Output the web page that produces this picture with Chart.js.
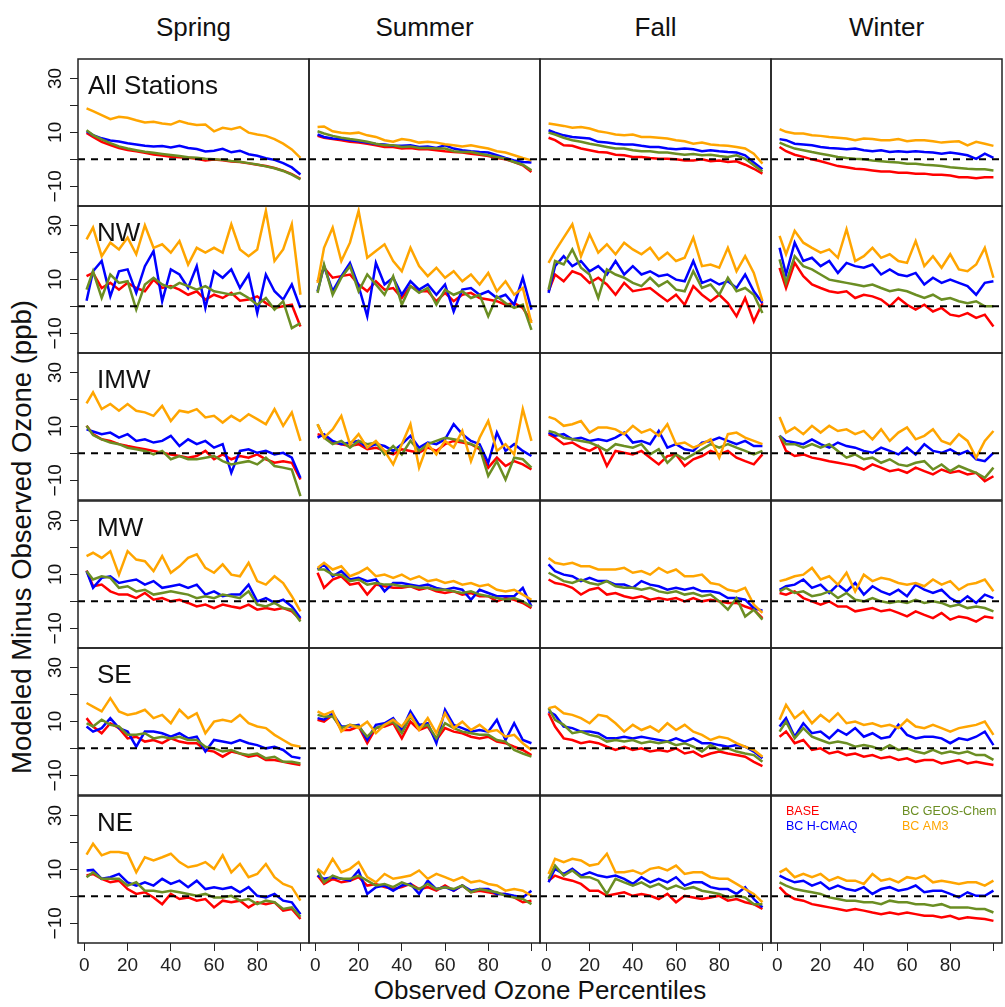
<!DOCTYPE html>
<html>
<head>
<meta charset="utf-8">
<script src="https://cdn.jsdelivr.net/npm/chart.js@4.4.1/dist/chart.umd.min.js"></script>
<style>
  body { margin: 0; background: #fff; font-family: "Liberation Sans", Arial, sans-serif; }
  #fig { position: relative; width: 1005px; height: 1007px; overflow: hidden; }
  #fig canvas { position: absolute; }
  .ttl { position: absolute; color: #111; font-size: 26px; line-height: 26px; text-align: center; white-space: nowrap; }
</style>
</head>
<body>
<div id="fig"></div>
<script>
const percentiles = [1,4,8,12,16,20,24,28,32,36,40,44,48,52,56,60,64,68,72,76,80,84,88,92,96,100];
const seasons = ['Spring', 'Summer', 'Fall', 'Winter'];
const regions = ['All Stations', 'NW', 'IMW', 'MW', 'SE', 'NE'];
const scenarios = ['BASE', 'BC H-CMAQ', 'BC GEOS-Chem', 'BC AM3'];
const scenarioColors = ['#ff0000', '#0000ff', '#6b8e23', '#ffa500'];
const yTicks = [-10, 0, 10, 20, 30];
const yTickLabels = ['\u221210', '', '10', '', '30'];
const xTicks = [0, 20, 40, 60, 80, 100];
const xTickLabels = ['0', '20', '40', '60', '80', ''];

// modeled minus observed ozone (ppb); each array = [spring, summer, fall, winter]
const allBase = [
  [9.8,8.3,6.5,5.3,4.2,3.5,3.0,2.4,1.8,1.4,1.0,0.8,0.6,0.2,-0.4,-0.1,-0.3,-0.8,-1.0,-1.5,-2.0,-2.5,-3.2,-4.2,-5.5,-7.2],
  [8.7,8.0,7.5,7.1,6.5,6.2,5.8,5.2,4.6,4.6,4.0,4.2,3.7,3.7,3.4,3.0,2.7,2.5,2.1,1.7,1.2,0.5,0.0,-1.0,-2.2,-4.7],
  [8.0,7.1,5.2,5.0,4.0,3.4,2.7,2.5,1.7,1.5,0.9,0.9,0.5,0.2,0.2,0.0,-0.4,-0.4,0.0,-0.7,-0.4,-1.0,-0.7,-2.0,-3.5,-5.3],
  [4.6,3.0,1.7,0.9,0.0,-0.7,-1.6,-2.5,-2.9,-3.5,-3.7,-4.1,-4.5,-4.5,-5.0,-5.0,-5.3,-5.3,-5.7,-5.7,-6.0,-6.6,-6.6,-7.0,-6.6,-6.6]
];
const allHcmaq = [
  [10.4,9.0,7.8,7.0,6.6,6.0,5.5,5.0,4.8,4.9,4.4,5.0,4.2,3.8,2.9,3.2,3.9,2.6,3.2,1.9,1.3,0.4,-0.2,-1.4,-3.0,-5.6],
  [9.2,8.3,7.7,7.5,7.1,6.7,6.2,5.7,5.5,5.0,5.0,5.2,4.6,4.8,4.2,5.2,4.0,3.4,3.0,2.7,2.5,1.5,0.5,-0.4,-1.0,-1.2],
  [10.8,9.9,8.9,8.3,8.0,7.7,6.5,6.2,5.8,5.5,5.5,5.0,4.6,4.6,4.0,3.7,4.0,3.7,3.0,3.4,3.0,2.7,2.5,1.5,-1.2,-3.7],
  [7.5,7.1,5.8,5.5,5.2,4.6,4.2,4.0,3.7,4.0,3.4,3.0,3.4,2.7,3.0,2.7,3.0,2.7,2.5,2.1,2.5,2.1,1.5,0.2,2.1,0.5]
];
const allGeos = [
  [10.8,9.0,7.4,6.0,4.8,4.0,3.4,2.8,2.4,2.0,1.6,1.2,0.8,0.6,0.2,0.0,-0.2,-0.6,-0.9,-1.4,-1.9,-2.6,-3.3,-4.3,-5.7,-7.4],
  [10.4,9.6,8.7,8.0,7.5,7.1,6.5,5.8,5.2,5.2,4.6,4.8,4.2,4.2,4.0,4.0,3.0,2.7,2.7,2.1,1.5,0.9,0.2,-1.0,-2.0,-4.1],
  [9.9,9.2,8.0,7.1,6.5,5.8,5.2,4.6,4.0,4.0,3.4,3.0,3.0,2.5,2.5,2.1,1.7,2.0,1.5,1.7,1.2,0.9,1.5,0.2,-2.2,-4.5],
  [6.2,5.2,4.0,3.4,2.7,2.1,1.5,0.9,0.5,0.2,0.0,-0.4,-0.7,-1.0,-1.2,-1.6,-1.6,-2.0,-2.2,-2.5,-2.9,-3.2,-3.5,-3.7,-3.7,-4.1]
];
const allAm3 = [
  [18.9,17.9,16.4,14.9,15.8,15.4,14.5,13.7,13.9,13.3,12.9,14.2,13.3,12.7,12.9,10.4,11.7,11.2,12.0,9.9,9.2,8.7,7.5,5.8,3.7,0.5],
  [12.0,12.2,10.4,9.9,9.6,9.9,8.9,8.3,7.1,6.5,7.5,7.1,6.2,6.5,6.2,5.6,5.2,4.8,5.2,4.6,4.0,3.0,2.5,1.5,0.5,-0.4],
  [13.3,12.9,12.4,11.7,12.0,11.4,10.4,9.9,9.2,8.9,9.2,8.3,8.3,8.0,7.7,7.1,6.7,5.8,6.2,5.5,5.2,5.0,4.6,4.0,2.1,-1.6],
  [11.2,10.2,9.6,9.6,8.9,8.7,8.3,8.0,7.7,7.1,7.7,7.5,7.1,7.1,7.5,6.7,7.1,7.1,6.7,6.2,6.5,6.7,5.2,6.5,5.8,5.0]
];

const nwBase = [
  [11.2,12.4,6.8,8.7,6.2,8.7,6.8,5.6,9.9,6.8,7.5,6.2,4.3,5.6,2.5,4.3,3.1,5.0,2.1,2.5,3.7,1.2,-0.6,0.0,0.6,-7.5],
  [9.3,14.3,10.6,11.2,11.8,8.1,5.6,9.3,6.2,6.8,3.1,7.5,5.6,5.6,1.9,5.0,1.9,4.3,5.0,3.1,2.5,1.9,0.6,1.2,-0.6,-5.6],
  [5.6,11.8,9.3,13.0,11.8,8.7,10.6,8.1,4.3,8.7,5.6,6.2,6.8,4.3,1.9,4.3,0.6,7.5,4.3,1.9,4.3,1.2,-3.7,3.1,-5.6,1.2],
  [14.3,6.8,16.1,11.2,8.1,6.8,5.6,5.0,5.6,3.1,4.3,3.7,2.5,0.0,3.1,0.6,-1.2,0.6,-1.9,-0.6,-3.1,-3.7,-2.5,-4.3,-3.1,-7.5]
];
const nwHcmaq = [
  [2.1,13.0,16.8,3.7,13.0,13.7,5.0,14.9,20.5,1.9,13.7,11.8,6.8,14.9,-0.6,13.0,10.6,13.7,6.8,11.8,-2.5,11.8,5.6,2.5,8.1,-0.6],
  [5.6,14.9,5.6,11.2,16.1,7.5,-3.7,16.1,8.1,10.6,4.3,9.3,6.2,8.1,4.3,8.1,-1.9,6.2,6.8,4.3,5.6,3.1,4.3,0.6,10.6,-1.2],
  [5.0,14.9,18.6,14.9,16.8,13.0,14.9,11.8,16.8,11.8,14.9,11.8,13.0,11.2,11.8,9.9,9.3,16.8,8.7,9.9,8.1,9.3,6.8,11.8,5.6,1.2],
  [21.7,11.8,23.6,16.8,18.0,14.9,16.8,12.4,16.1,14.9,14.3,15.5,11.8,13.7,11.8,11.2,12.4,8.1,10.6,8.7,9.9,8.7,7.5,4.3,8.7,9.3]
];
const nwGeos = [
  [6.2,13.0,3.1,11.8,8.7,9.3,-1.2,8.1,10.6,8.1,6.8,8.7,7.5,6.2,7.5,5.6,5.0,4.3,5.0,3.1,0.6,3.1,-1.2,1.9,-8.1,-6.2],
  [5.0,15.5,4.3,10.6,14.9,5.6,11.8,8.1,4.3,11.2,0.6,7.5,5.0,6.8,0.6,6.2,4.3,5.6,3.1,4.3,-3.7,3.7,1.2,-0.6,0.6,-8.7],
  [6.2,16.8,15.5,21.1,14.3,11.8,3.1,13.7,11.8,10.6,8.7,7.5,10.6,7.5,9.3,6.2,5.6,13.0,6.8,8.1,4.3,10.6,5.6,6.8,4.3,-2.5],
  [17.4,8.7,18.6,14.9,13.7,11.8,9.9,9.3,8.7,8.1,7.5,8.1,6.8,5.6,6.2,5.6,4.3,3.1,4.3,2.5,3.1,1.9,1.2,1.9,0.0,0.0]
];
const nwAm3 = [
  [24.8,29.2,18.6,23.6,21.1,25.5,19.3,30.0,21.7,23.0,19.9,24.2,15.5,21.7,19.9,21.7,19.9,30.4,21.1,18.6,21.1,35.4,16.8,21.1,30.4,4.3],
  [8.7,21.7,29.2,16.8,23.6,35.4,18.0,20.5,23.0,16.8,13.0,21.7,14.9,11.2,14.3,10.6,13.0,9.3,11.8,8.1,12.4,5.6,9.3,4.3,6.8,-6.2],
  [16.1,20.5,25.5,30.4,18.6,26.7,19.9,23.0,19.3,23.6,21.1,19.3,21.7,17.4,19.9,16.8,18.0,25.5,14.9,15.5,14.3,21.7,13.0,18.6,12.4,1.9],
  [26.1,19.3,28.0,23.6,21.7,19.9,21.1,18.0,28.6,16.8,18.6,21.7,18.0,19.3,16.8,16.1,24.2,14.9,18.6,14.3,19.3,13.7,13.0,15.5,21.7,10.6]
];

const imwBase = [
  [10.2,7.1,5.2,4.6,3.4,2.7,2.1,1.5,0.9,0.2,-0.4,-1.0,-1.6,-1.0,0.9,-2.2,-0.4,-2.2,-1.0,-1.6,-0.4,-2.2,-3.5,-2.9,-3.5,-9.7],
  [7.1,6.5,4.0,3.4,2.7,3.4,1.5,2.1,0.9,-0.4,1.5,0.9,0.2,2.1,0.9,3.4,4.6,4.0,3.4,1.5,-5.3,-1.6,-4.7,-2.9,-4.1,-6.0],
  [7.1,5.8,3.4,4.0,2.1,0.9,2.7,-4.7,0.9,0.2,-0.4,0.9,-1.6,-4.1,-1.0,-0.4,-4.7,-2.2,-1.0,0.9,-0.4,0.9,-1.6,-2.9,-4.1,-0.4],
  [6.5,0.9,-1.0,-0.4,-1.6,-2.2,-2.9,-3.5,-4.1,-4.7,-6.0,-4.1,-5.3,-6.6,-6.0,-7.2,-5.3,-6.6,-7.8,-6.0,-7.2,-6.6,-7.8,-7.2,-10.3,-8.5]
];
const imwHcmaq = [
  [8.9,8.1,7.1,7.7,5.8,7.1,4.6,5.2,4.0,4.6,6.5,2.7,5.2,3.4,4.6,2.1,3.4,-7.2,0.9,1.5,0.2,0.9,-0.4,0.2,-1.6,-9.1],
  [5.8,7.1,4.6,3.4,4.0,4.6,2.1,3.4,2.7,0.9,3.4,6.5,2.1,4.0,3.4,5.2,10.8,7.1,4.6,3.4,-3.5,7.7,0.9,3.4,0.9,-1.0],
  [7.7,6.5,7.1,5.2,5.8,4.6,5.2,4.6,5.8,7.7,4.0,4.6,3.4,8.3,2.1,3.4,1.5,0.9,4.0,4.6,5.8,4.6,3.4,4.6,2.7,2.7],
  [6.5,4.6,4.0,3.4,5.2,3.4,2.1,4.0,2.7,2.1,0.9,0.2,2.1,0.9,-0.4,2.1,-0.4,3.4,0.9,0.2,1.5,-0.4,0.9,-2.2,-2.9,0.2]
];
const imwGeos = [
  [10.2,6.8,5.2,4.0,3.4,2.1,1.5,0.9,-0.4,0.9,-2.2,-1.0,-2.2,-2.2,-1.6,-1.0,-2.9,-4.1,-3.5,-2.9,-4.1,-1.6,-4.7,-5.3,-6.0,-15.9],
  [10.8,5.8,3.4,4.6,2.1,4.6,3.4,4.0,-0.4,2.7,-0.4,4.6,0.9,3.4,4.6,5.8,5.2,4.6,3.4,2.1,-8.4,-2.9,-9.7,-1.6,-2.2,-5.3],
  [8.3,7.7,5.8,5.2,4.6,4.0,2.7,0.9,3.4,2.7,2.1,3.4,-0.4,1.5,-3.5,-0.4,-2.2,-0.4,1.5,3.4,2.1,3.4,2.1,0.9,-0.4,0.9],
  [6.5,3.4,3.4,2.1,3.4,2.1,3.4,0.9,-1.6,-0.4,-2.2,-1.6,-3.5,-2.2,-4.1,-4.7,-3.5,-2.9,-6.0,-4.1,-6.6,-4.7,-6.0,-7.2,-9.1,-5.3]
];
const imwAm3 = [
  [18.5,22.6,16.4,18.3,15.8,18.3,15.8,15.2,13.9,17.6,12.0,15.8,15.2,16.4,13.3,13.9,11.4,13.9,12.0,14.5,12.7,10.8,16.4,10.2,15.2,4.6],
  [10.8,5.8,8.9,13.9,3.4,7.1,2.1,4.6,0.9,-4.1,3.4,10.8,-5.3,3.4,-0.4,4.6,2.1,8.3,-2.9,5.8,12.0,0.9,3.4,-0.4,16.4,4.6],
  [13.5,12.7,10.2,10.8,12.0,7.7,9.6,9.6,8.9,7.1,10.2,7.7,8.9,6.5,10.8,3.4,4.0,2.1,3.4,5.2,-1.6,7.1,7.7,5.8,4.6,3.4],
  [13.5,7.7,9.6,7.1,10.2,7.7,10.2,8.3,8.9,7.1,8.3,5.2,8.9,4.6,7.7,9.6,5.2,6.5,8.9,4.6,3.4,7.1,4.6,-1.6,4.6,8.3]
];

const mwBase = [
  [11.4,5.6,6.2,3.7,2.5,2.5,1.2,3.1,0.6,1.2,0.0,0.6,-0.6,-1.9,-1.2,-2.5,-1.2,-1.9,-2.5,-1.2,-3.1,-2.5,-3.1,-2.5,-3.7,-6.8],
  [10.6,5.0,8.1,9.3,6.2,6.8,2.5,6.2,5.6,5.0,5.0,5.6,4.3,5.0,3.7,3.1,3.7,2.5,3.1,1.9,1.9,0.0,1.2,0.6,-0.6,-2.5],
  [8.1,6.8,6.2,5.0,2.5,4.3,5.0,2.5,3.1,1.9,1.2,1.9,0.6,1.2,0.6,1.2,0.0,1.2,0.0,0.6,0.0,-0.6,-0.6,-1.9,-3.1,-6.2],
  [3.1,2.5,3.7,1.2,0.0,-1.2,0.0,-1.9,-1.9,-3.7,-3.1,-2.5,-3.7,-3.1,-4.3,-5.6,-3.7,-5.0,-6.2,-4.3,-6.8,-5.6,-6.2,-7.5,-5.6,-6.2]
];
const mwHcmaq = [
  [11.2,5.0,8.7,9.3,6.8,7.5,8.1,6.2,7.5,5.0,5.6,6.2,5.0,6.2,2.5,3.7,1.9,2.5,2.5,6.2,0.0,1.2,-0.6,0.6,-1.9,-6.2],
  [11.8,13.7,9.3,11.2,8.1,8.7,7.5,8.1,3.7,6.8,6.8,6.2,5.6,6.2,5.0,4.3,5.0,4.3,0.6,4.3,3.1,1.9,1.9,1.9,5.0,-1.9],
  [13.7,11.2,9.9,9.3,7.5,8.7,7.5,7.5,6.2,6.2,5.0,7.5,6.2,5.6,4.3,5.0,4.3,5.0,3.7,3.7,3.1,1.2,1.2,0.6,-2.5,-3.5],
  [4.3,5.6,6.2,8.1,5.0,6.2,3.1,6.2,3.7,6.8,2.5,5.6,3.7,2.5,4.3,1.9,6.2,4.3,3.1,4.3,1.2,-0.6,1.9,-0.6,2.5,1.2]
];
const mwGeos = [
  [11.2,8.1,9.3,8.7,5.0,5.6,3.7,4.3,2.5,3.1,3.7,3.1,2.5,1.2,1.9,1.2,2.5,1.9,1.2,3.7,-1.2,-1.9,-0.6,-2.5,-3.1,-7.5],
  [11.8,11.8,9.9,9.9,7.5,8.1,6.2,6.8,6.2,6.2,5.6,5.6,5.0,5.0,4.3,4.3,3.7,3.1,3.7,2.5,1.9,1.2,0.6,1.2,0.0,-1.9],
  [10.6,9.3,7.5,6.8,8.1,6.8,6.2,7.5,5.6,5.0,5.0,4.3,5.0,3.7,3.1,3.7,2.5,3.1,1.9,2.5,0.0,-3.1,1.2,-5.6,-3.1,-6.8],
  [3.7,5.0,3.1,3.7,1.9,2.5,3.7,1.2,3.1,0.6,0.0,1.2,0.0,-0.6,0.0,-0.6,0.6,-0.6,0.0,-0.6,-1.9,-1.2,-2.5,-1.9,-2.5,-3.7]
];
const mwAm3 = [
  [16.8,18.0,16.1,18.6,9.9,18.6,15.5,14.9,11.2,16.8,10.6,13.0,16.1,17.4,12.4,10.6,13.7,9.9,9.3,14.3,7.5,6.2,9.3,6.8,1.9,-3.7],
  [12.4,14.3,11.8,13.0,9.3,10.6,12.4,9.3,9.9,8.7,9.9,8.1,9.3,7.5,8.1,6.8,7.5,6.2,6.8,5.6,6.2,4.3,3.7,4.3,2.5,0.6],
  [16.1,14.3,13.7,14.3,13.0,13.0,11.8,11.8,11.8,12.4,10.6,11.2,9.9,12.4,10.6,11.8,9.3,9.3,9.9,6.8,6.2,4.3,3.7,5.0,-1.2,-4.3],
  [7.5,8.1,9.3,9.9,12.4,8.1,9.3,6.2,10.6,3.7,9.9,7.5,8.7,8.1,6.8,6.2,6.8,5.6,8.1,6.2,7.5,4.3,6.2,6.8,8.1,3.7]
];

const seBase = [
  [11.2,8.1,5.6,9.3,7.5,3.7,4.3,2.5,3.1,1.9,3.7,2.5,1.9,1.9,-0.6,-1.2,-3.1,-1.2,-1.9,-3.1,-2.5,-4.3,-4.3,-5.0,-5.6,-6.2],
  [10.6,9.9,12.4,6.8,6.8,8.1,1.9,7.5,8.1,9.3,3.7,9.9,6.8,8.1,3.1,7.5,6.2,5.6,4.3,3.7,4.3,2.5,1.9,0.6,-0.6,-2.5],
  [13.0,8.1,3.7,3.1,1.9,2.5,1.9,0.6,-0.6,0.6,-0.6,0.0,-1.2,-0.6,-1.2,0.0,-1.9,-1.2,-3.1,-1.9,-1.2,-1.9,-2.5,-3.1,-5.0,-6.6],
  [4.3,6.2,1.9,3.1,-0.6,0.0,-1.9,-1.2,-2.5,-1.9,-3.1,-2.5,-3.7,-3.1,-4.3,-3.7,-5.0,-4.3,-4.3,-5.6,-5.0,-4.3,-5.6,-5.0,-5.6,-6.2]
];
const seHcmaq = [
  [8.1,6.2,7.5,11.2,7.5,6.2,0.6,6.2,6.2,5.6,4.3,5.6,3.7,4.3,-1.2,3.1,2.5,1.9,3.1,1.9,1.2,0.0,0.6,-0.6,-3.1,-3.7],
  [11.2,10.6,13.0,8.1,8.1,8.7,3.1,8.7,9.3,11.2,6.8,13.7,8.7,9.3,1.9,14.3,8.7,7.5,6.2,6.8,6.2,10.6,3.1,9.3,3.1,1.9],
  [13.7,12.4,8.1,7.5,6.2,6.2,5.6,3.7,3.7,4.3,3.7,4.3,3.7,3.1,2.5,3.7,2.5,3.7,1.9,1.9,1.2,0.6,1.2,0.6,-1.2,-3.7],
  [8.1,11.2,4.3,9.3,5.6,6.2,3.7,6.8,5.0,7.5,4.3,5.6,3.7,4.3,8.7,5.0,3.7,4.3,4.3,3.7,1.9,3.7,3.1,4.3,6.2,1.2]
];
const seGeos = [
  [9.3,8.1,10.6,8.7,8.1,5.0,5.0,5.6,3.7,4.3,3.7,4.3,3.1,3.1,0.6,0.0,-1.2,-0.6,-1.9,-2.5,-1.9,-3.7,-3.1,-5.0,-5.0,-5.6],
  [12.4,11.8,11.8,7.5,8.7,8.1,4.3,7.5,8.7,9.9,5.6,11.8,7.5,8.7,3.7,9.3,7.5,6.2,5.6,5.0,5.0,3.1,2.5,-0.6,-1.9,-3.1],
  [14.9,10.6,8.7,5.6,6.2,5.0,4.3,2.5,3.1,2.5,3.1,1.9,2.5,1.9,2.5,1.2,1.9,0.6,-1.2,1.2,-0.6,0.0,-1.2,-1.9,-2.5,-5.0],
  [6.2,9.9,3.7,7.5,4.3,3.1,1.9,2.5,1.9,0.6,1.2,0.6,-0.6,1.2,-0.6,0.0,-1.2,-1.9,-0.6,-1.9,-1.2,-1.9,-1.2,-2.5,-2.5,-4.3]
];
const seAm3 = [
  [16.8,15.5,13.7,18.6,13.7,12.4,13.0,14.3,11.2,12.4,9.3,14.3,11.2,13.0,5.6,9.9,10.6,9.9,12.4,9.3,8.1,7.5,5.0,3.1,1.2,0.6],
  [13.7,12.4,13.7,6.2,8.7,7.5,9.9,5.6,8.7,10.6,8.1,12.4,6.8,11.2,5.6,13.0,7.5,9.9,6.8,8.7,6.2,6.8,4.3,5.0,1.9,-0.6],
  [14.9,15.5,13.0,12.4,11.2,9.3,12.4,11.8,9.3,6.2,8.7,6.8,8.1,6.2,9.3,6.8,8.7,6.2,5.0,3.1,4.3,3.7,1.9,0.6,-0.6,-3.1],
  [10.6,16.1,11.2,13.7,9.3,12.4,9.9,13.0,9.3,9.9,8.7,9.3,8.1,8.7,7.5,10.6,8.1,7.5,8.7,7.5,6.2,7.5,8.1,8.7,9.9,5.0]
];

const neBase = [
  [7.7,8.3,6.5,5.2,5.8,2.7,0.9,1.5,-0.4,-2.9,0.9,-1.0,-0.4,-1.6,-1.0,-4.1,-1.6,-2.2,-1.6,-4.1,-2.2,-2.9,-2.2,-5.3,-4.7,-8.4],
  [7.7,4.6,6.5,5.2,5.8,7.1,4.0,4.6,3.4,2.7,3.4,4.6,2.7,3.4,2.1,4.0,2.1,4.0,1.5,2.1,1.5,0.9,0.9,-0.4,-2.2,-1.6],
  [5.8,7.7,6.5,5.8,4.6,2.1,2.1,0.2,0.9,1.5,0.2,0.9,0.2,-1.0,0.9,-2.2,0.2,-0.4,-1.0,-0.4,0.2,-1.6,-1.0,-2.2,-2.9,-4.7],
  [3.4,0.9,-1.0,-1.6,-2.9,-3.5,-4.1,-4.7,-5.3,-4.7,-5.3,-6.0,-6.6,-6.0,-6.6,-6.0,-6.6,-7.2,-7.2,-7.8,-7.2,-8.4,-7.8,-8.1,-8.4,-9.1]
];
const neHcmaq = [
  [9.6,9.8,6.5,7.1,8.3,5.2,4.0,5.2,4.0,6.5,4.6,5.8,3.4,5.8,2.7,3.4,2.7,3.4,1.5,3.4,0.2,-0.4,0.9,-1.6,-2.2,-6.6],
  [7.7,6.5,7.1,6.5,5.8,9.6,0.9,3.4,4.0,2.1,4.0,4.6,0.9,5.8,2.7,3.4,2.1,4.0,2.1,2.7,2.7,0.9,0.9,0.2,-0.4,2.1],
  [5.2,10.2,8.3,10.2,7.7,8.9,7.7,7.1,7.7,6.5,4.6,7.1,5.2,6.5,5.2,7.1,4.0,5.2,5.2,3.4,2.7,2.7,0.9,3.4,-1.0,-4.1],
  [7.7,6.5,5.2,5.8,4.0,5.2,2.7,4.0,2.7,2.1,3.4,0.9,2.7,3.4,2.1,2.7,4.0,1.5,2.1,2.1,0.9,-0.4,1.5,0.2,0.2,2.1]
];
const neGeos = [
  [7.1,8.9,6.5,6.5,6.5,4.0,5.2,2.1,2.1,1.5,2.1,1.5,0.9,0.2,0.9,-0.4,-0.4,0.2,-1.6,-1.0,-2.9,-1.6,-2.2,-4.7,-4.1,-7.6],
  [9.8,5.2,7.7,6.5,6.5,7.7,5.8,4.0,4.6,3.4,5.2,4.0,2.7,4.6,2.7,3.4,2.7,4.0,1.5,2.7,2.1,1.5,0.2,-0.4,-1.0,-2.9],
  [6.5,11.4,7.7,9.6,7.1,7.1,5.8,0.9,6.5,5.2,4.0,5.2,3.4,4.6,2.7,4.0,2.7,3.4,2.1,1.5,0.9,-0.4,0.2,-0.4,-2.9,-2.9],
  [5.2,4.0,2.7,2.1,1.5,0.9,-0.4,-1.0,-1.6,-1.6,-2.2,-2.2,-2.9,-1.6,-2.2,-2.2,-2.9,-2.9,-3.5,-2.9,-4.1,-4.1,-4.1,-4.7,-4.7,-6.0]
];
const neAm3 = [
  [15.5,19.5,15.2,16.4,16.4,15.8,8.9,14.5,13.3,14.5,15.8,12.7,10.8,11.4,12.7,10.2,15.2,8.9,12.0,7.1,8.3,12.0,7.1,4.6,3.4,-1.6],
  [10.2,8.3,13.9,8.9,10.2,12.7,7.1,5.2,8.3,6.5,7.1,7.7,9.6,6.5,8.3,7.1,5.8,7.1,5.2,5.8,4.6,4.0,2.1,2.7,2.1,0.2],
  [8.3,13.9,12.7,13.9,13.3,11.4,12.0,15.8,8.9,8.9,9.6,8.3,10.2,10.8,9.6,11.4,8.3,8.9,8.9,7.1,6.5,6.5,4.6,2.7,0.9,-2.2],
  [8.9,10.2,7.1,8.3,7.1,8.3,5.8,7.1,5.8,5.8,4.6,8.3,5.8,6.5,5.2,7.1,6.5,7.7,5.2,5.8,5.2,4.6,5.2,5.2,4.0,5.8]
];

// rows follow `regions`, columns inside follow `scenarios`
const regionData = [
  [allBase, allHcmaq, allGeos, allAm3],
  [nwBase, nwHcmaq, nwGeos, nwAm3],
  [imwBase, imwHcmaq, imwGeos, imwAm3],
  [mwBase, mwHcmaq, mwGeos, mwAm3],
  [seBase, seHcmaq, seGeos, seAm3],
  [neBase, neHcmaq, neGeos, neAm3]
];

// layout
const COL_LEFT = [78, 309, 540, 771];
const ROW_TOP = [59, 206, 353, 501, 648, 796];
const PANEL_W = 231, PANEL_H = 147;
const PAD = 2, Y_AXIS_W = 50, X_AXIS_H = 40;
const X_MIN = -2.96, X_MAX = 103.96, Y_MIN = -17.3, Y_MAX = 37.2;
const FONT = '"Liberation Sans", Arial, sans-serif';

Chart.defaults.font.family = FONT;
Chart.defaults.color = '#222';

// frame, region name, rotated y labels and the small legend
const panelDecor = {
  id: 'panelDecor',
  afterDraw(chart, args, opts) {
    const { ctx, chartArea: a, scales } = chart;
    ctx.save();
    ctx.strokeStyle = '#222';
    ctx.lineWidth = 1.5;
    ctx.strokeRect(a.left, a.top, a.right - a.left, a.bottom - a.top);
    ctx.fillStyle = '#111';
    ctx.textBaseline = 'alphabetic';
    if (opts.region) {
      ctx.font = '26px ' + FONT;
      ctx.textAlign = 'left';
      ctx.fillText(opts.region, a.left + opts.regionDx, a.top + 35);
    }
    if (opts.yLabels) {
      ctx.font = '19px ' + FONT;
      ctx.textAlign = 'center';
      yTicks.forEach((v, i) => {
        if (!yTickLabels[i]) return;
        const y = scales.y.getPixelForValue(v);
        ctx.save();
        ctx.translate(a.left - 17, y);
        ctx.rotate(-Math.PI / 2);
        ctx.fillText(yTickLabels[i], 0, 0);
        ctx.restore();
      });
    }
    if (opts.legend) {
      ctx.font = '12.5px ' + FONT;
      ctx.textAlign = 'left';
      scenarios.forEach((s, i) => {
        ctx.fillStyle = scenarioColors[i];
        ctx.fillText(s, a.left + 15 + Math.floor(i / 2) * 116, a.top + 19 + (i % 2) * 14.5);
      });
    }
    ctx.restore();
  }
};

const fig = document.getElementById('fig');

seasons.forEach((season, c) => {
  const t = document.createElement('div');
  t.className = 'ttl';
  t.textContent = season;
  t.style.left = COL_LEFT[c] + 'px';
  t.style.width = PANEL_W + 'px';
  t.style.top = '14px';
  fig.appendChild(t);
});

const xTitle = document.createElement('div');
xTitle.className = 'ttl';
xTitle.textContent = 'Observed Ozone Percentiles';
xTitle.style.left = COL_LEFT[0] + 'px';
xTitle.style.width = (COL_LEFT[3] + PANEL_W - COL_LEFT[0]) + 'px';
xTitle.style.top = '977px';
fig.appendChild(xTitle);

const yTitle = document.createElement('div');
yTitle.className = 'ttl';
yTitle.textContent = 'Modeled Minus Observed Ozone (ppb)';
yTitle.style.fontSize = '27.5px';
yTitle.style.width = '600px';
yTitle.style.left = (22 - 300) + 'px';
yTitle.style.top = (537 - 13) + 'px';
yTitle.style.transform = 'rotate(-90deg)';
fig.appendChild(yTitle);

regions.forEach((region, r) => {
  seasons.forEach((season, c) => {
    const hasY = c === 0;
    const hasX = r === regions.length - 1;
    const w = PANEL_W + 2 * PAD + (hasY ? Y_AXIS_W : 0);
    const h = PANEL_H + 2 * PAD + (hasX ? X_AXIS_H : 0);
    const canvas = document.createElement('canvas');
    canvas.width = w;
    canvas.height = h;
    canvas.style.width = w + 'px';
    canvas.style.height = h + 'px';
    canvas.style.left = (COL_LEFT[c] - PAD - (hasY ? Y_AXIS_W : 0)) + 'px';
    canvas.style.top = (ROW_TOP[r] - PAD) + 'px';
    fig.appendChild(canvas);

    const datasets = scenarios.map((s, k) => ({
      label: s,
      data: percentiles.map((p, i) => ({ x: p, y: regionData[r][k][c][i] })),
      borderColor: scenarioColors[k],
      borderWidth: 2.5,
      pointRadius: 0,
      tension: 0,
      order: 4 - k
    }));
    // zero reference line
    datasets.push({
      label: 'zero',
      data: [{ x: X_MIN, y: 0 }, { x: X_MAX, y: 0 }],
      borderColor: '#000',
      borderWidth: 2,
      borderDash: [7, 6],
      pointRadius: 0,
      order: 0
    });

    new Chart(canvas, {
      type: 'line',
      data: { datasets },
      options: {
        responsive: false,
        devicePixelRatio: 1,
        animation: false,
        events: [],
        layout: { padding: PAD, autoPadding: false },
        plugins: {
          legend: { display: false },
          tooltip: { enabled: false },
          panelDecor: {
            region: hasY ? region : null,
            regionDx: region === 'All Stations' ? 10 : 19,
            yLabels: hasY,
            legend: r === regions.length - 1 && c === seasons.length - 1
          }
        },
        scales: {
          x: {
            type: 'linear',
            min: X_MIN,
            max: X_MAX,
            display: hasX,
            afterBuildTicks: axis => { axis.ticks = xTicks.map(v => ({ value: v })); },
            afterFit: axis => { axis.height = hasX ? X_AXIS_H : 0; },
            grid: { drawOnChartArea: false, drawTicks: true, tickLength: 8, color: '#222', lineWidth: 1 },
            border: { display: false },
            ticks: {
              autoSkip: false,
              maxRotation: 0,
              padding: 3,
              font: { size: 19 },
              color: '#222',
              callback: v => xTickLabels[xTicks.indexOf(v)]
            }
          },
          y: {
            type: 'linear',
            min: Y_MIN,
            max: Y_MAX,
            display: hasY,
            afterBuildTicks: axis => { axis.ticks = yTicks.map(v => ({ value: v })); },
            afterFit: axis => { axis.width = hasY ? Y_AXIS_W : 0; },
            grid: { drawOnChartArea: false, drawTicks: true, tickLength: 8, color: '#222', lineWidth: 1 },
            border: { display: false },
            ticks: { display: false }
          }
        }
      },
      plugins: [panelDecor]
    });
  });
});
</script>
</body>
</html>
